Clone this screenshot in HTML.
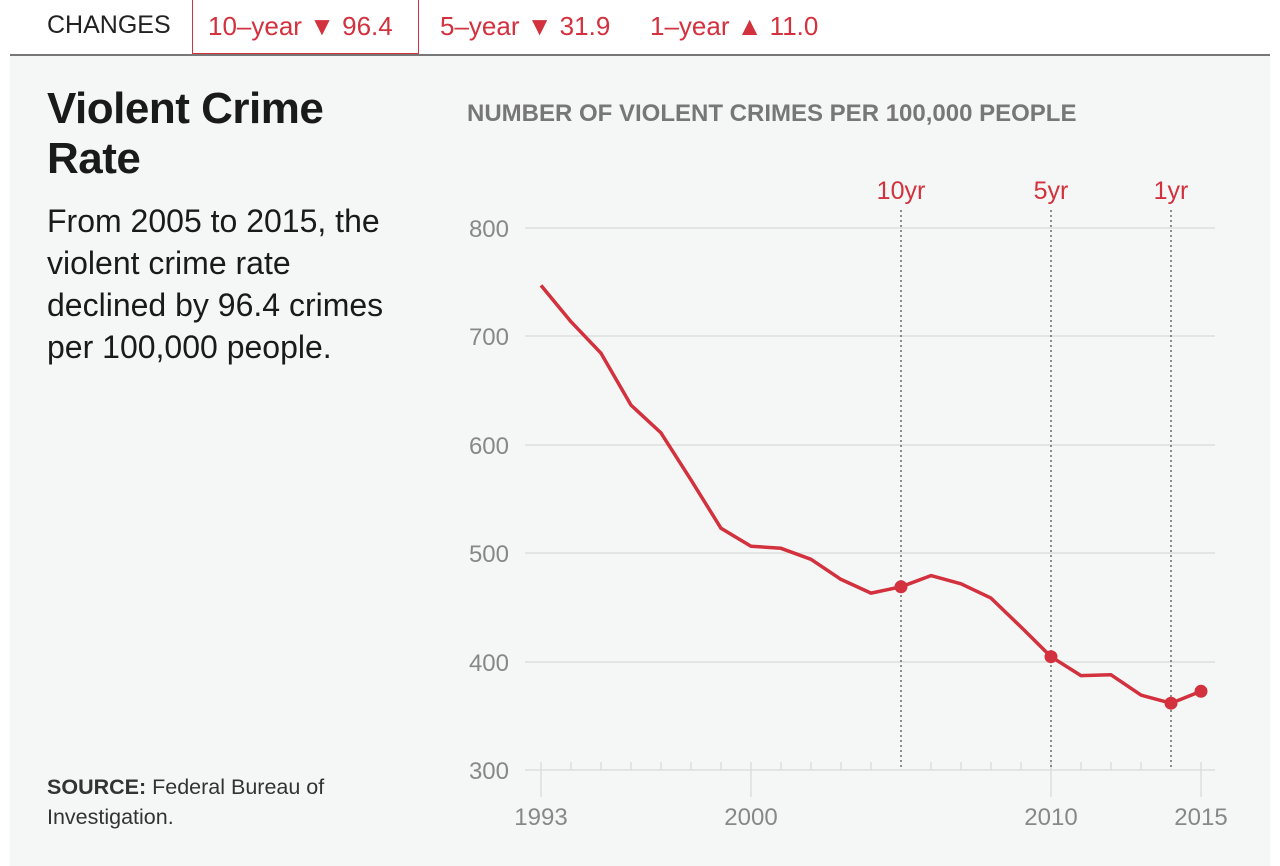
<!DOCTYPE html><html><head><meta charset="utf-8"><style>
body{margin:0;width:1280px;height:864px;background:#fff;font-family:"Liberation Sans",sans-serif;position:relative;overflow:hidden}
.t{position:absolute;white-space:nowrap}
</style></head><body>
<div style="position:absolute;left:10px;top:54px;width:1260px;height:810px;background:#f5f7f6;border-top:2px solid #777"></div>
<div style="position:absolute;left:192px;top:0;width:225px;height:53px;border:1px solid #d2313d;border-top:none;background:#fff"></div>
<div class="t" style="left:47px;top:11px;font-size:25px;color:#222">CHANGES</div>
<div class="t" style="left:208px;top:11px;font-size:26px;color:#d2313d">10–year ▼ 96.4</div>
<div class="t" style="left:440px;top:11px;font-size:26px;color:#d2313d">5–year ▼ 31.9</div>
<div class="t" style="left:650px;top:11px;font-size:26px;color:#d2313d">1–year ▲ 11.0</div>
<div class="t" style="left:47px;top:84px;font-size:44px;font-weight:bold;color:#1a1a1a;line-height:50px;letter-spacing:-0.5px">Violent Crime<br>Rate</div>
<div class="t" style="left:47px;top:200px;font-size:32px;color:#1a1a1a;line-height:42px">From 2005 to 2015, the<br>violent crime rate<br>declined by 96.4 crimes<br>per 100,000 people.</div>
<div class="t" style="left:47px;top:772px;font-size:21.5px;color:#333;line-height:30px"><b>SOURCE:</b> Federal Bureau of<br>Investigation.</div>
<div class="t" style="left:467px;top:100px;font-size:24px;font-weight:bold;color:#777">NUMBER OF VIOLENT CRIMES PER 100,000 PEOPLE</div>
<svg width="1280" height="864" style="position:absolute;left:0;top:0">
<g stroke="#ddd" stroke-width="1.5">
<line x1="525" y1="228" x2="1215" y2="228"/><line x1="525" y1="336" x2="1215" y2="336"/><line x1="525" y1="445" x2="1215" y2="445"/><line x1="525" y1="553" x2="1215" y2="553"/><line x1="525" y1="662" x2="1215" y2="662"/><line x1="525" y1="770" x2="1215" y2="770"/>
<line x1="541" y1="762" x2="541" y2="797"/><line x1="751" y1="762" x2="751" y2="797"/><line x1="1051" y1="762" x2="1051" y2="797"/><line x1="1201" y1="762" x2="1201" y2="797"/>
<path d="M571 762v8M601 762v8M631 762v8M661 762v8M691 762v8M721 762v8M781 762v8M811 762v8M841 762v8M871 762v8M931 762v8M961 762v8M991 762v8M1021 762v8M1081 762v8M1111 762v8M1141 762v8"/>
</g>
<g stroke="#555" stroke-width="1.3" stroke-dasharray="2,3">
<line x1="901" y1="210" x2="901" y2="770"/><line x1="1051" y1="210" x2="1051" y2="770"/><line x1="1171" y1="210" x2="1171" y2="770"/>
</g>
<g font-family="Liberation Sans" font-size="24" fill="#888">
<text x="509" y="237" text-anchor="end">800</text><text x="509" y="345" text-anchor="end">700</text><text x="509" y="454" text-anchor="end">600</text><text x="509" y="562" text-anchor="end">500</text><text x="509" y="671" text-anchor="end">400</text><text x="509" y="779" text-anchor="end">300</text>
<text x="541" y="825" text-anchor="middle">1993</text><text x="751" y="825" text-anchor="middle">2000</text><text x="1051" y="825" text-anchor="middle">2010</text><text x="1201" y="825" text-anchor="middle">2015</text>
</g>
<g font-family="Liberation Sans" font-size="25" fill="#d2313d" text-anchor="middle">
<text x="901" y="199">10yr</text><text x="1051" y="199">5yr</text><text x="1171" y="199">1yr</text>
</g>
<polyline fill="none" stroke="#d2313d" stroke-width="3.5" stroke-linejoin="round" points="541,285.4 571,321.7 601,353.2 631,405.1 661,432.9 691,479.9 721,528.3 751,546.2 781,548.3 811,559.3 841,579.4 871,593.1 901,586.8 931,575.6 961,583.8 991,598.1 1021,627 1051,656.7 1081,675.6 1111,674.8 1141,695.1 1171,703.2 1201,691.3"/>
<g fill="#d2313d"><circle cx="901" cy="586.8" r="6.5"/><circle cx="1051" cy="656.7" r="6.5"/><circle cx="1171" cy="703.2" r="6.5"/><circle cx="1201" cy="691.3" r="6.5"/></g>
</svg>
</body></html>
